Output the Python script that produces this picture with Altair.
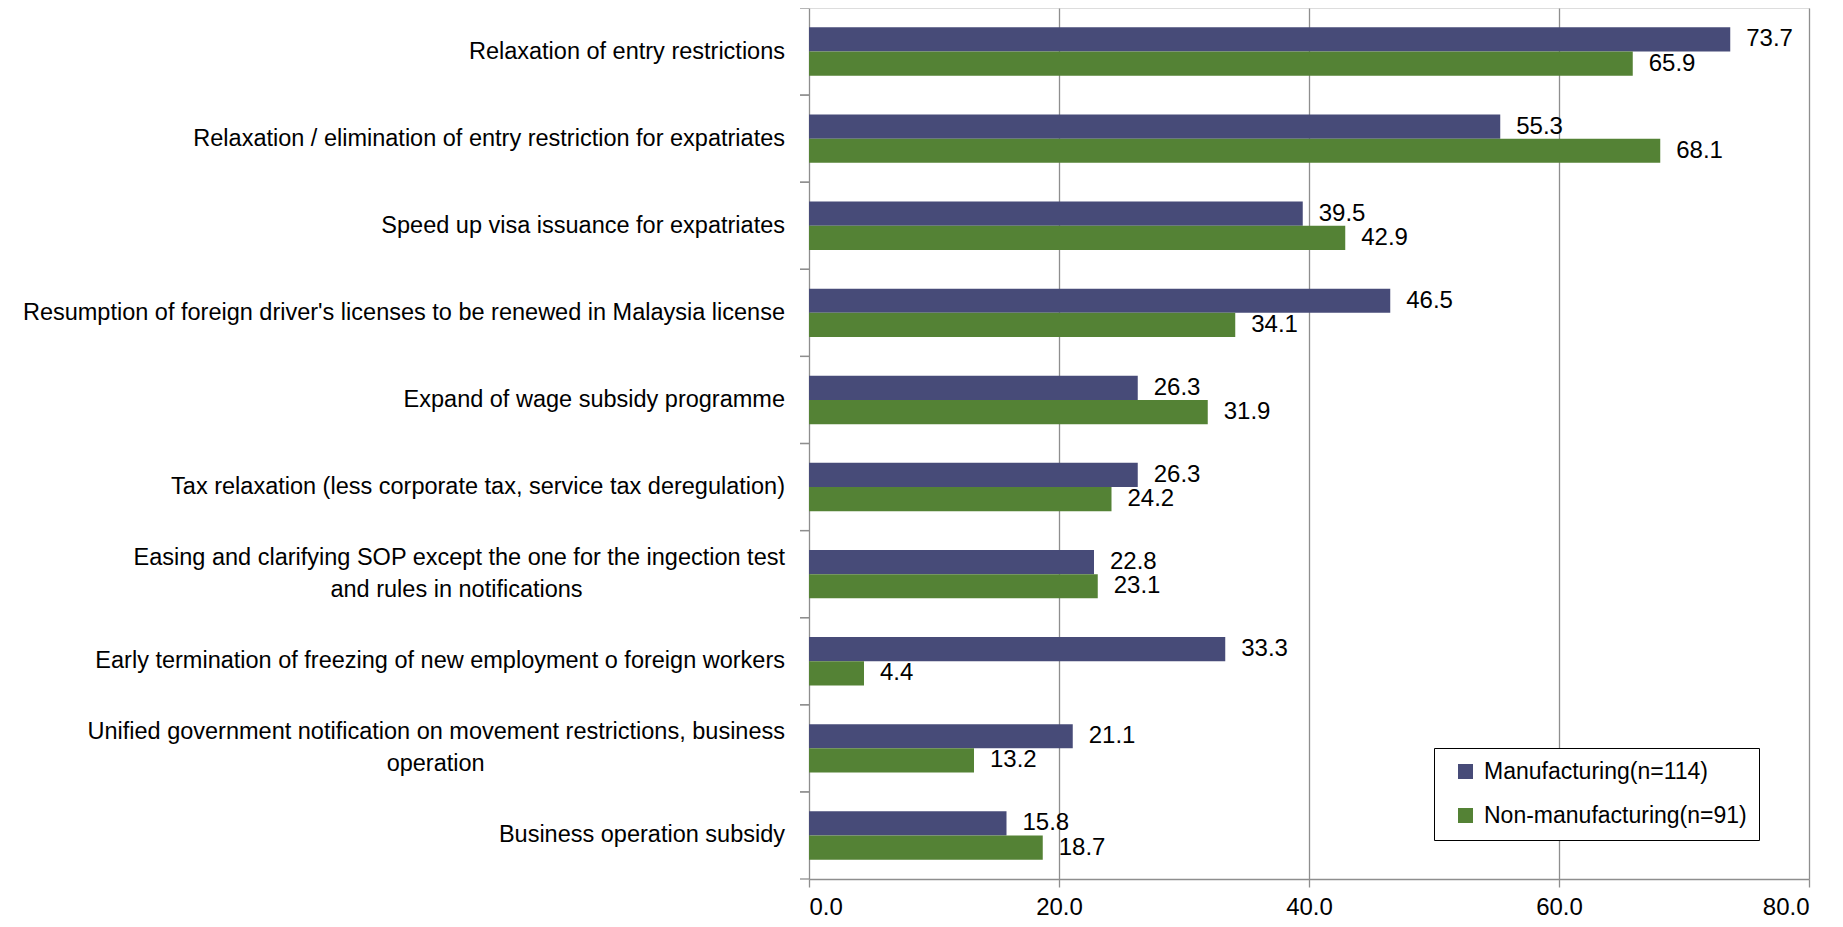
import altair as alt
import pandas as pd

categories = [
    "Relaxation of entry restrictions",
    "Relaxation / elimination of entry restriction for expatriates",
    "Speed up visa issuance for expatriates",
    "Resumption of foreign driver's licenses to be renewed in Malaysia license",
    "Expand of wage subsidy programme",
    "Tax relaxation (less corporate tax, service tax deregulation)",
    "Easing and clarifying SOP except the one for the ingection test|and rules in notifications",
    "Early termination of freezing of new employment o foreign workers",
    "Unified government notification on movement restrictions, business|operation",
    "Business operation subsidy",
]
manufacturing = [73.7, 55.3, 39.5, 46.5, 26.3, 26.3, 22.8, 33.3, 21.1, 15.8]
non_manufacturing = [65.9, 68.1, 42.9, 34.1, 31.9, 24.2, 23.1, 4.4, 13.2, 18.7]
series = ["Manufacturing(n=114)", "Non-manufacturing(n=91)"]
x_ticks = [0, 20, 40, 60, 80]

# layout helper: pad second lines with no-break spaces (closed by a zero-width
# space so they are not trimmed) so that they appear centred under the first line
second_line_pad = {6: 31, 8: 46}
NBSP = "\u00a0"
ZWSP = "\u200b"
labels = []
for i, c in enumerate(categories):
    if "|" in c and i in second_line_pad:
        a, b = c.split("|")
        c = a + "|" + b + NBSP * second_line_pad[i] + ZWSP
    labels.append(c)

rows = []
for lab, m, n in zip(labels, manufacturing, non_manufacturing):
    rows.append({"category": lab, "series": series[0], "value": m})
    rows.append({"category": lab, "series": series[1], "value": n})
df = pd.DataFrame(rows)

FONT = "Liberation Sans, Arial, sans-serif"
NAVY = "#474B78"
GREEN = "#548235"
GRAY = "#8E8E8E"

y_scale = alt.Scale(domain=labels, paddingInner=0, paddingOuter=0)

y_enc = alt.Y(
    "category:N",
    sort=labels,
    scale=y_scale,
    axis=alt.Axis(
        title=None,
        labels=False,
        ticks=False,
        domainColor=GRAY,
        domainWidth=1.3,
    ),
)
x_enc = alt.X(
    "value:Q",
    scale=alt.Scale(domain=[0, 80], nice=False),
    axis=alt.Axis(
        title=None,
        values=x_ticks,
        format=".1f",
        grid=True,
        gridColor=GRAY,
        gridWidth=1.3,
        tickColor=GRAY,
        tickWidth=1.3,
        tickSize=8,
        domainColor=GRAY,
        domainWidth=1.3,
        labelFont=FONT,
        labelFontSize=24,
        labelColor="#000000",
        labelPadding=8,
    ),
)
yoff = alt.YOffset(
    "series:N", sort=series, scale=alt.Scale(domain=series, paddingOuter=0.8, paddingInner=0)
)

bars = alt.Chart(df).mark_bar().encode(
    y=y_enc,
    x=x_enc,
    yOffset=yoff,
    color=alt.Color(
        "series:N",
        scale=alt.Scale(domain=series, range=[NAVY, GREEN]),
        legend=alt.Legend(
            title=None,
            orient="none",
            legendX=625,
            legendY=740,
            direction="vertical",
            strokeColor="#000000",
            fillColor="#ffffff",
            padding=12,
            symbolType="square",
            symbolSize=225,
            symbolStrokeWidth=0,
            symbolOffset=8,
            labelFont=FONT,
            labelFontSize=23,
            labelColor="#000000",
            labelOffset=7,
            labelLimit=600,
            rowPadding=20,
        ),
    ),
)

texts = alt.Chart(df).mark_text(
    align="left", baseline="middle", dx=16, font=FONT, fontSize=24, color="#000000"
).encode(
    y=alt.Y("category:N", sort=labels, scale=y_scale, axis=None),
    x=alt.X("value:Q"),
    yOffset=yoff,
    text=alt.Text("value:Q", format=".1f"),
)

first = alt.Chart(df).transform_filter(alt.datum.series == series[0])


def cat_text(filter_expr, dy):
    return (
        first.transform_filter(filter_expr)
        .mark_text(
            align="right",
            baseline="middle",
            lineBreak="|",
            lineHeight=32,
            dy=dy,
            font=FONT,
            fontSize=23.5,
            color="#000000",
        )
        .encode(
            y=alt.Y("category:N", sort=labels, scale=y_scale, axis=None),
            x=alt.value(-24),
            text="category:N",
        )
    )


cat_single = cat_text("indexof(datum.category, '|') < 0", 0)
cat_double = cat_text("indexof(datum.category, '|') >= 0", -16)

ticks_top = first.mark_rule(color=GRAY, strokeWidth=1.3).encode(
    y=alt.Y("category:N", sort=labels, scale=y_scale, axis=None, bandPosition=0),
    x=alt.value(-9),
    x2=alt.value(0),
)
ticks_bottom = first.mark_rule(color=GRAY, strokeWidth=1.3).encode(
    y=alt.Y("category:N", sort=labels, scale=y_scale, axis=None, bandPosition=1),
    x=alt.value(-9),
    x2=alt.value(0),
)

chart = (
    alt.layer(bars, texts, cat_single, cat_double, ticks_top, ticks_bottom)
    .properties(
        width=1000,
        height=871,
        autosize=alt.AutoSizeParams(type="none"),
        padding={"left": 801, "top": 0, "right": 18, "bottom": 40},
    )
    .configure_view(stroke=None)
    .configure(background="#ffffff")
)

chart.save("out.html", embed_options={"renderer": "svg", "actions": False})
